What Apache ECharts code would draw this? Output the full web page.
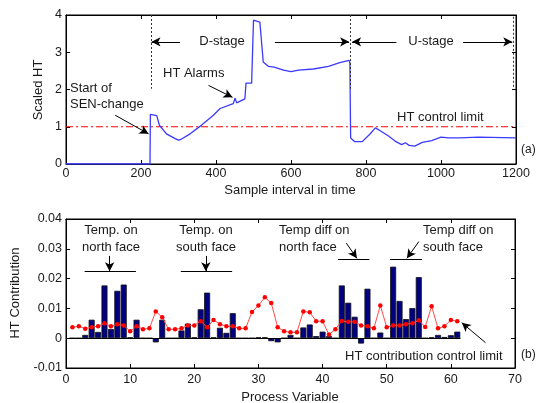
<!DOCTYPE html>
<html>
<head>
<meta charset="utf-8">
<script src="https://cdn.jsdelivr.net/npm/echarts@6/dist/echarts.min.js"></script>
<style>
  html, body { margin: 0; background: #fff; }
  #main { width: 536px; height: 403px; }
</style>
</head>
<body>
<div id="main"></div>
<script>
// (a) scaled HT over time
var sampleX = [0, 224, 225, 242, 249, 268, 291, 300, 308, 331, 357, 393, 411, 446, 451, 455, 477, 480, 495, 500, 517, 526,
  540, 545, 555, 580, 600, 620, 660, 700, 730, 755, 757, 759, 770, 790, 810, 825, 840, 860, 880, 895, 905, 915, 930,
  950, 975, 1000, 1020, 1050, 1100, 1200];
var scaledHT = [0, 0, 1.33, 1.3, 1.04, 0.81, 0.68, 0.64, 0.67, 0.81, 1.01, 1.31, 1.49, 1.62, 1.77, 1.64, 1.75, 2.17, 2.17, 3.86, 3.81, 2.74,
  2.62, 2.66, 2.6, 2.52, 2.48, 2.52, 2.55, 2.62, 2.72, 2.78, 2.72, 0.7, 0.6, 0.6, 0.8, 0.97, 0.88, 0.75, 0.6, 0.52, 0.57, 0.5, 0.48,
  0.58, 0.63, 0.72, 0.7, 0.7, 0.72, 0.7];
var htLimitLine = [[0, 1], [1200, 1]];
var xTicksA = { min: 0, max: 1200, interval: 200 };
var yTicksA = { min: 0, max: 4, interval: 1 };

// (b) contributions per process variable (1..61)
var contribution = [
  0, 0, 0.0011, 0.0062, 0.0021, 0.0177, 0.0031, 0.0159, 0.018, 0.0003,
  0.0062, 0, 0, -0.0014, 0.0062, 0, 0, 0.0026, 0.0049, 0.0003,
  0.0097, 0.0153, 0.0003, 0.0035, 0.0018, 0.0084, 0, 0, 0, 0.0003,
  0.0003, -0.001, -0.0014, 0, 0.0011, 0, 0.0036, 0.0046, 0.0007, 0.0022,
  0.0007, 0, 0.0177, 0.0119, 0.0072, -0.0018, 0.0166, 0, 0.0019, 0,
  0.024, 0.0125, 0.0064, 0.0101, 0.0205, 0, 0.0003, 0.0011, 0.0004, 0.001,
  0.0022];
var contribLimit = [
  0.0037, 0.004, 0.0032, 0.0037, 0.004, 0.005, 0.004, 0.0047, 0.0043, 0.0023,
  0.004, 0.003, 0.0033, 0.009, 0.007, 0.003, 0.003, 0.0033, 0.0043, 0.0043,
  0.0057, 0.0037, 0.0061, 0.0047, 0.004, 0.004, 0.0033, 0.0033, 0.0088, 0.011,
  0.0137, 0.0118, 0.0037, 0.0023, 0.002, 0.002, 0.009, 0.0087, 0.0057, 0.0057,
  0.0012, 0.003, 0.0058, 0.0055, 0.0055, 0.0043, 0.004, 0.0033, 0.011, 0.0037,
  0.0043, 0.0043, 0.0047, 0.005, 0.006, 0.0038, 0.0107, 0.0033, 0.004, 0.0061,
  0.0057];
var xTicksB = { min: 0, max: 70, interval: 10 };
var yTicksB = { min: -0.01, max: 0.04, interval: 0.01 };

var FONT = 'Liberation Sans';
var TXT = '#1a1a1a';

var chart = echarts.init(document.getElementById('main'));

function axisBase(extra) {
  var base = {
    axisLine: { show: true, onZero: false, lineStyle: { color: '#000', width: 1 } },
    axisTick: { show: true, inside: true, length: 4, lineStyle: { color: '#000' } },
    splitLine: { show: false },
    axisLabel: { color: TXT, fontFamily: FONT, fontSize: 12.5 }
  };
  return Object.assign(base, extra);
}
function ghost(extra) {
  return axisBase(Object.assign({ axisLabel: { show: false } }, extra));
}
function lbl(margin, fmt) {
  return { axisLabel: { color: TXT, fontFamily: FONT, fontSize: 12.5, margin: margin, formatter: fmt } };
}

function arrow(p0, p1) {
  return [{ coord: p0, symbol: 'none' }, { coord: p1, symbol: 'arrow', symbolSize: [7, 9] }];
}
function seg(p0, p1) {
  return [{ coord: p0, symbol: 'none' }, { coord: p1, symbol: 'none' }];
}

function txt(t, x, y, align, size) {
  return {
    type: 'text', x: x, y: y, silent: true,
    style: { text: t, fill: TXT, fontFamily: FONT, fontSize: size || 13, align: align || 'left', verticalAlign: 'middle' }
  };
}

var pointsA = sampleX.map(function (x, i) { return [x, scaledHT[i]]; });
var barsB = contribution.map(function (v, i) { return [i + 1, v]; });
var limitB = contribLimit.map(function (v, i) { return [i + 1, v]; });

var plainInt = function (v) { return String(v); };

option = {
  animation: false,
  backgroundColor: '#fff',
  grid: [
    { left: 66, top: 15, width: 450, height: 149, show: true, borderColor: '#000', borderWidth: 1 },
    { left: 66, top: 219, width: 449, height: 149, show: true, borderColor: '#000', borderWidth: 1 }
  ],
  xAxis: [
    axisBase(Object.assign({ type: 'value', gridIndex: 0, position: 'bottom' }, xTicksA, lbl(3, plainInt))),
    ghost(Object.assign({ type: 'value', gridIndex: 0, position: 'top' }, xTicksA)),
    axisBase(Object.assign({ type: 'value', gridIndex: 1, position: 'bottom' }, xTicksB, lbl(5, plainInt))),
    ghost(Object.assign({ type: 'value', gridIndex: 1, position: 'top' }, xTicksB))
  ],
  yAxis: [
    axisBase(Object.assign({ type: 'value', gridIndex: 0, position: 'left' }, yTicksA, lbl(4, plainInt))),
    ghost(Object.assign({ type: 'value', gridIndex: 0, position: 'right' }, yTicksA)),
    axisBase(Object.assign({ type: 'value', gridIndex: 1, position: 'left' }, yTicksB,
      lbl(4, function (v) { return Math.abs(v) < 1e-9 ? '0' : v.toFixed(2); }))),
    ghost(Object.assign({ type: 'value', gridIndex: 1, position: 'right' }, yTicksB))
  ],
  series: [
    {
      type: 'line', xAxisIndex: 0, yAxisIndex: 0,
      data: htLimitLine, showSymbol: false, symbol: 'none',
      lineStyle: { color: '#ff0000', width: 1, type: [7, 3, 2, 3] },
      z: 2
    },
    {
      type: 'line', xAxisIndex: 0, yAxisIndex: 0,
      data: pointsA, showSymbol: false, symbol: 'none',
      lineStyle: { color: '#3a3aff', width: 1.3 },
      z: 3,
      markLine: {
        silent: true, animation: false,
        label: { show: false },
        lineStyle: { color: '#333', width: 1, type: [2, 2] },
        data: [
          seg([226, 4], [226, 2.02]),
          seg([759, 4], [759, 2.02]),
          seg([1192, 3.95], [1192, 2.02])
        ]
      }
    },
    {
      // arrows of panel (a)
      type: 'line', xAxisIndex: 0, yAxisIndex: 0, data: [], silent: true,
      markLine: {
        silent: true, animation: false,
        label: { show: false },
        lineStyle: { color: '#000', width: 1, type: 'solid' },
        data: [
          arrow([304, 3.28], [228, 3.28]),
          arrow([557, 3.28], [755, 3.28]),
          arrow([881, 3.28], [763, 3.28]),
          arrow([1059, 3.28], [1190, 3.28]),
          arrow([131, 1.31], [220, 0.81]),
          arrow([380, 2.11], [444, 1.79])
        ]
      }
    },
    {
      type: 'bar', xAxisIndex: 2, yAxisIndex: 2,
      data: barsB, barWidth: 6,
      itemStyle: { color: '#000080', borderColor: '#111', borderWidth: 0.8 },
      z: 2,
      markLine: {
        silent: true, animation: false,
        label: { show: false },
        lineStyle: { color: '#000', width: 1, type: 'solid' },
        data: [
          seg([0.4, 0], [61.5, 0]),
          seg([2.9, 0.0223], [10.9, 0.0223]),
          arrow([6.8, 0.0276], [6.8, 0.0225]),
          seg([17.9, 0.0223], [25.9, 0.0223]),
          arrow([21.8, 0.0276], [21.8, 0.0225]),
          seg([42.4, 0.0266], [47.3, 0.0266]),
          arrow([43.7, 0.0319], [45.35, 0.0268]),
          seg([50.5, 0.0266], [55.5, 0.0266]),
          arrow([55.0, 0.0324], [53.15, 0.0268]),
          arrow([65.4, -0.0015], [61.7, 0.0052])
        ]
      }
    },
    {
      type: 'line', xAxisIndex: 2, yAxisIndex: 2,
      data: limitB, symbol: 'circle', symbolSize: 4.5,
      lineStyle: { color: '#ff4a4a', width: 1 },
      itemStyle: { color: '#ff0000' },
      z: 4
    }
  ],
  graphic: [
    { type: 'text', x: 38, y: 90, rotation: Math.PI / 2, silent: true,
      style: { text: 'Scaled HT', fill: TXT, fontFamily: FONT, fontSize: 13, align: 'center', verticalAlign: 'middle' } },
    txt('Sample interval in time', 290, 190, 'center'),
    txt('Start of', 70, 88),
    txt('SEN-change', 70, 104),
    txt('HT Alarms', 163, 73),
    txt('D-stage', 222, 41, 'center'),
    txt('U-stage', 431, 41, 'center'),
    txt('HT control limit', 397, 117),
    txt('(a)', 521, 150, 'left', 12),
    { type: 'text', x: 15, y: 293, rotation: Math.PI / 2, silent: true,
      style: { text: 'HT Contribution', fill: TXT, fontFamily: FONT, fontSize: 13, align: 'center', verticalAlign: 'middle' } },
    txt('Process Variable', 290, 397, 'center'),
    txt('Temp. on', 111, 230, 'center'),
    txt('north face', 111, 247, 'center'),
    txt('Temp. on', 206, 230, 'center'),
    txt('south face', 206, 247, 'center'),
    txt('Temp diff on', 279, 230),
    txt('north face', 279, 247),
    txt('Temp diff on', 423, 230),
    txt('south face', 423, 247),
    txt('HT contribution control limit', 345, 356),
    txt('(b)', 521, 355, 'left', 12)
  ]
};

option && chart.setOption(option);
</script>
</body>
</html>
